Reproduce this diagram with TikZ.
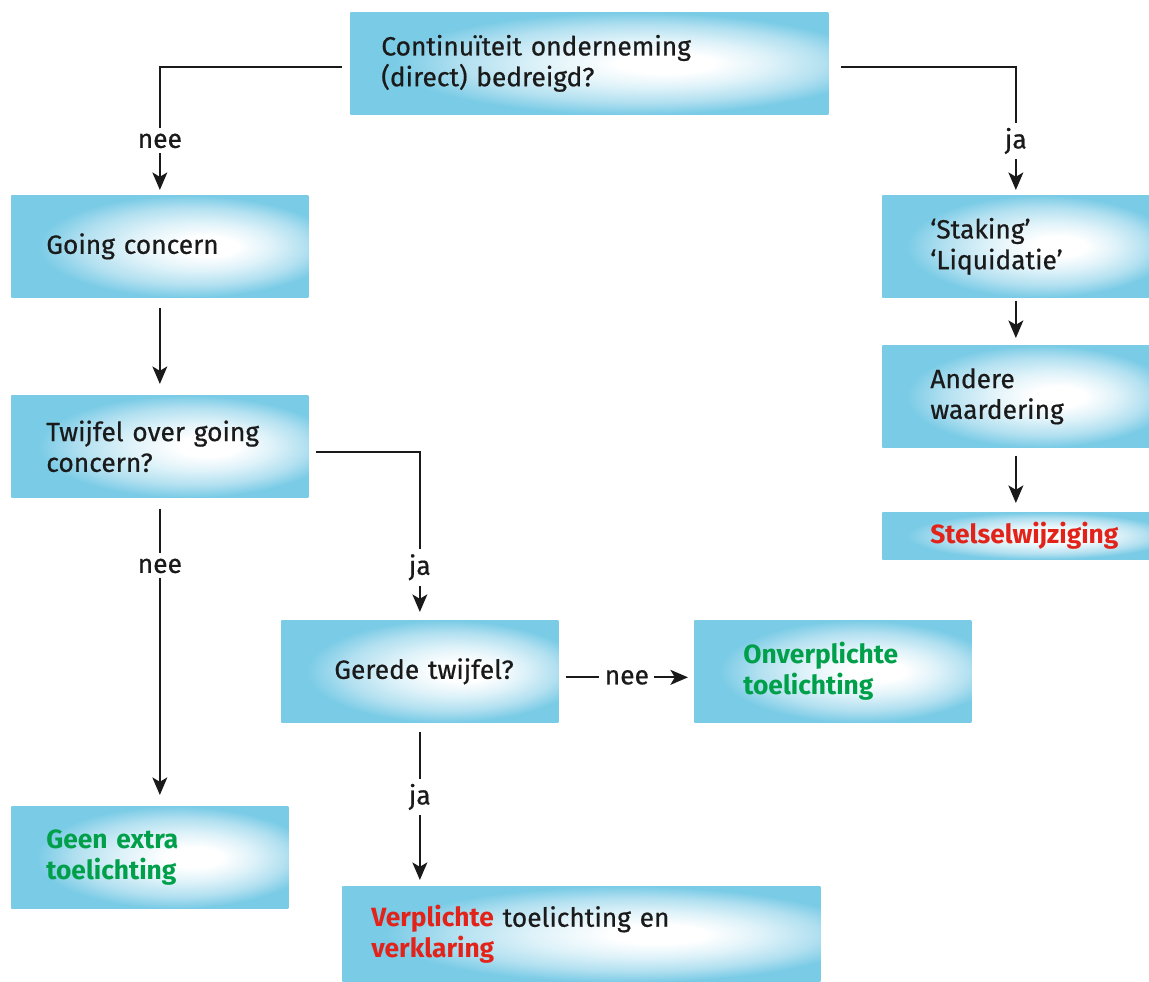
\documentclass[tikz,border=0pt]{standalone}
\usepackage{fontspec}
\setmainfont{Fira Sans}[UprightFeatures={FakeBold=0.6}]
\usetikzlibrary{arrows.meta}

\definecolor{boxblue}{RGB}{122,203,230}
\definecolor{glowmid}{RGB}{178,224,240}
\definecolor{glowpale}{RGB}{222,242,249}
\definecolor{inktext}{RGB}{26,26,26}
\definecolor{warnred}{RGB}{226,35,26}
\definecolor{okgreen}{RGB}{0,160,75}

\pgfdeclareradialshading{boxglow}{\pgfpoint{9bp}{0bp}}{color(0bp)=(white); color(5bp)=(white); color(12bp)=(glowpale); color(19bp)=(glowmid); color(25bp)=(boxblue); color(50bp)=(boxblue)}

\tikzset{
	flowbox/.style={shading=boxglow, rectangle, anchor=north west, inner xsep=0pt, align=left, text=inktext, font=\fontsize{15}{17.5}\selectfont},
	flowline/.style={line width=1.1pt, inktext, -{Stealth[length=10pt,width=8.5pt,inset=2.5pt]}},
	answer/.style={fill=white, text=inktext, inner sep=3pt, font=\fontsize{15}{17}\selectfont}
}

\begin{document}
\begin{tikzpicture}
	\useasboundingbox (0,0) rectangle (22.98,-19.64);

	\node[flowbox, minimum width=9.56cm, minimum height=2.04cm, text width=8.32cm] (threat) at (7.0,-0.24) {Continuïteit onderneming\\(direct) bedreigd?};
	\node[flowbox, minimum width=5.94cm, minimum height=2.04cm, text width=4.54cm] (going) at (0.22,-3.9) {Going concern};
	\node[flowbox, minimum width=5.94cm, minimum height=2.04cm, text width=4.54cm] (doubt) at (0.22,-7.9) {Twijfel over going\\concern?};
	\node[flowbox, minimum width=5.34cm, minimum height=2.04cm, text width=3.42cm] (staking) at (17.64,-3.9) {‘Staking’\\‘Liquidatie’};
	\node[flowbox, minimum width=5.34cm, minimum height=2.04cm, text width=3.42cm] (valuation) at (17.64,-6.9) {Andere\\waardering};
	\node[flowbox, minimum width=5.34cm, minimum height=0.94cm, text width=3.42cm] (policy) at (17.64,-10.24) {\textcolor{warnred}{\bfseries Stelselwijziging}};
	\node[flowbox, minimum width=5.54cm, minimum height=2.04cm, text width=3.42cm] (serious) at (5.62,-12.4) {\mbox{Gerede twijfel?}};
	\node[flowbox, minimum width=5.54cm, minimum height=2.04cm, text width=3.58cm] (optional) at (13.88,-12.4) {\color{okgreen}\bfseries Onverplichte\\toelichting};
	\node[flowbox, minimum width=5.54cm, minimum height=2.04cm, text width=4.14cm] (noextra) at (0.22,-16.12) {\color{okgreen}\bfseries Geen extra\\toelichting};
	\node[flowbox, minimum width=9.56cm, minimum height=1.92cm, text width=8.4cm] (mandatory) at (6.84,-17.72) {\textcolor{warnred}{\bfseries Verplichte} toelichting en\\\textcolor{warnred}{\bfseries verklaring}};

	\draw[flowline] ([xshift=-1.6mm,yshift=-0.8mm]threat.west) -| node[answer, pos=0.8] {nee} ([yshift=1mm]going.north);
	\draw[flowline] ([xshift=2.4mm,yshift=-0.8mm]threat.east) -| node[answer, pos=0.8] {ja} ([yshift=1mm]staking.north);
	\draw[flowline] ([yshift=-2mm]going.south) -- ([yshift=2.2mm]doubt.north);
	\draw[flowline] ([yshift=-2.2mm]doubt.south) -- node[answer, pos=0.2] {nee} ([yshift=2.2mm]doubt.south |- noextra.north);
	\draw[flowline] ([xshift=1.4mm,yshift=-1.2mm]doubt.east) -| node[answer, pos=0.86] {ja} ([yshift=1.6mm]serious.north);
	\draw[flowline] ([xshift=1.4mm,yshift=-1.2mm]serious.east) -- node[answer, pos=0.5] {nee} ([xshift=-1.2mm,yshift=-1.2mm]serious.east -| optional.west);
	\draw[flowline] ([yshift=-1.8mm]serious.south) -- node[answer, pos=0.44] {ja} ([yshift=1.2mm]serious.south |- mandatory.north);
	\draw[flowline] ([yshift=-0.6mm]staking.south) -- ([yshift=1.4mm]valuation.north);
	\draw[flowline] ([yshift=-1.6mm]valuation.south) -- ([yshift=1.8mm]policy.north);
\end{tikzpicture}
\end{document}
